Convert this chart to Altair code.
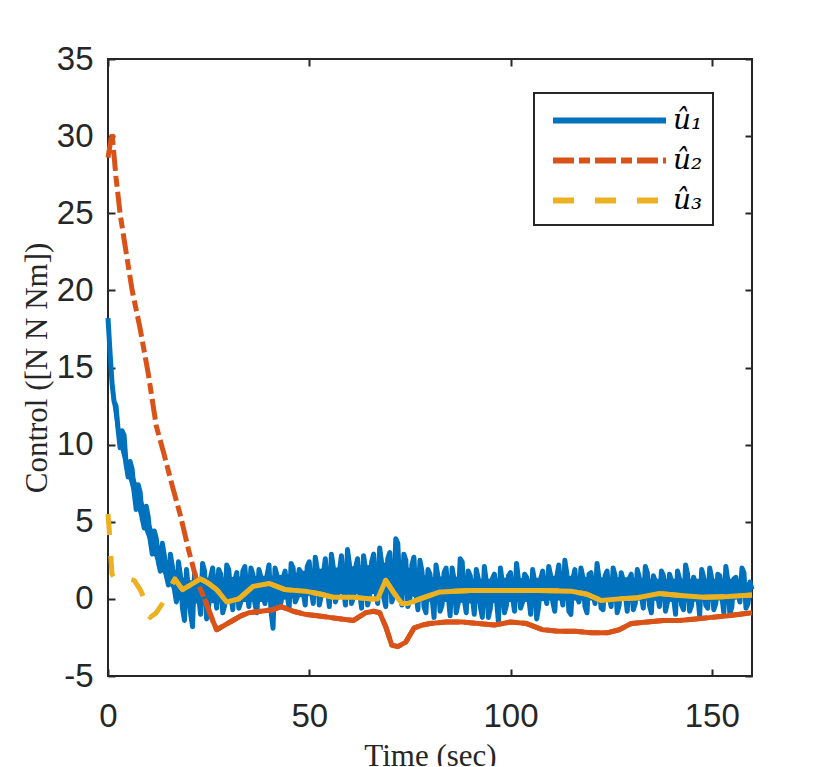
import altair as alt
import pandas as pd

# ---------------- data ----------------
names = ["û₁", "û₂", "û₃"]
colors = ["#0072BD", "#D95319", "#EDB120"]
dashes = [[1, 0], [21, 5, 11, 5], [21, 21]]

x_ticks = [0, 50, 100, 150]
y_ticks = [-5, 0, 5, 10, 15, 20, 25, 30, 35]

# u1 is a noisy signal: samples at whole seconds and at half seconds
t_u1 = list(range(0, 161))
u1 = [18.2, 14.0, 12.5, 9.8, 10.6, 7.9, 8.4, 5.8, 6.9, 4.6,
      5.3, 2.9, 3.9, 1.8, 2.8, 0.9, 2.1, -0.2, 1.5, -1.4,
      0.6, -1.8, 1.2, -1.0, 1.8, -0.5, 2.0, -0.6, 1.6, -0.4,
      1.9, -0.7, 1.7, -0.2, 2.1, -0.5, 1.6, -0.9, 1.4, -0.3,
      2.2, -1.9, 1.5, -0.2, 1.8, -0.6, 2.0, 0.1, 1.7, -0.4,
      2.4, -0.3, 1.9, 0.2, 2.6, -0.5, 2.0, 0.3, 2.8, -0.4,
      2.2, 0.1, 2.6, -0.6, 1.9, 0.2, 2.9, -0.3, 2.3, -0.5,
      3.0, 0.2, 3.6, -0.4, 2.5, 0.0, 2.7, -0.7, 1.8, -0.9,
      1.6, -1.2, 1.4, -0.4, 2.0, -1.1, 1.2, -0.3, 2.4, -0.9,
      1.5, -1.0, 1.3, -1.2, 1.1, -0.6, 1.6, -1.5, 1.0, -0.4,
      1.7, -0.8, 1.2, -0.2, 1.4, -1.0, 1.1, -0.5, 1.8, -0.3,
      1.5, -0.8, 2.2, -0.4, 1.6, -1.0, 1.9, -0.2, 1.4, -0.9,
      1.7, -0.3, 1.3, -0.7, 1.8, -0.5, 1.5, -0.4, 1.2, -0.8,
      1.6, -0.3, 1.4, -0.6, 1.7, -0.9, 1.1, -0.5, 1.5, -0.2,
      1.2, -1.0, 1.3, -0.7, 1.6, -0.4, 1.0, -1.1, 1.4, -0.6,
      1.3, -0.3, 1.5, -0.9, 1.2, -0.5, 1.4, -0.2, 1.7, -0.3,
      0.6]
t_u1_half = [i + 0.5 for i in range(0, 160)]
u1_half = [16.0, 12.8, 11.0, 10.9, 8.7, 8.9, 6.9, 7.4, 5.2, 6.0,
           3.8, 4.4, 2.4, 3.6, 1.5, 2.9, 0.6, 2.4, -0.6, 1.9,
           -0.9, 1.7, 0.2, 2.3, -1.3, 1.4, 0.6, 1.9, -0.9, 2.2,
           0.3, 1.2, -0.6, 1.8, 0.4, 2.0, -0.3, 1.9, 0.2, 1.5,
           -0.8, 2.0, -0.5, 1.3, 0.3, 2.3, -0.2, 1.9, 0.4, 2.1,
           0.5, 2.7, -0.4, 1.6, 0.6, 2.9, -0.2, 1.8, 0.7, 3.2,
           -0.3, 2.0, 0.5, 2.8, -0.4, 2.4, 0.6, 3.3, 0.1, 2.6,
           -0.2, 3.9, 0.6, 2.9, -0.5, 2.2, 0.4, 2.5, -0.5, 1.9,
           0.1, 2.2, -0.8, 1.7, 0.3, 2.0, -0.9, 2.6, 0.0, 1.8,
           0.2, 1.9, -0.5, 2.1, -1.2, 1.3, 0.0, 2.0, -0.9, 1.5,
           0.1, 2.3, -0.6, 1.6, 0.2, 1.9, -1.3, 1.3, 0.3, 2.1,
           -0.2, 1.4, 0.4, 2.5, -0.8, 1.3, 0.1, 2.0, -0.5, 1.6,
           0.3, 2.3, -0.6, 1.5, 0.2, 2.0, -0.9, 1.7, 0.4, 1.3,
           -0.7, 1.9, 0.2, 2.1, -0.4, 1.5, 0.3, 1.8, -0.8, 1.6,
           0.1, 1.8, -0.4, 2.2, -0.8, 1.4, 0.3, 1.9, -0.4, 2.0,
           -0.7, 1.6, 0.2, 2.1, -1.0, 1.3, 0.3, 2.0, -0.6, 1.1]

# the dense core of the u1 noise band (lower / upper edge)
t_band = [0, 1, 2, 3, 4, 5, 6, 8, 10, 12, 14, 16, 18, 20, 22, 25,
          30, 35, 40, 45, 50, 55, 60, 65, 70, 75, 80, 85, 90, 95, 100,
          105, 110, 115, 120, 125, 130, 135, 140, 145, 150, 155, 160]
band_lo = [17.5, 12.8, 11.0, 9.8, 8.7, 7.9, 6.9, 5.2, 3.8, 2.4, 1.5, 0.6, -0.2, -0.5, -0.3, -0.3,
           -0.2, -0.2, -0.2, 0.0, 0.2, 0.3, 0.3, 0.3, 0.4, 0.2, -0.2, -0.2, -0.3, -0.3, -0.2,
           -0.2, -0.1, -0.1, -0.1, -0.1, -0.1, -0.1, -0.2, -0.2, -0.1, -0.1, 0.2]
band_hi = [18.2, 14.0, 12.5, 10.9, 10.6, 8.9, 8.4, 6.9, 5.3, 3.9, 2.8, 2.1, 1.5, 1.2, 1.2, 1.4,
           1.4, 1.5, 1.5, 1.6, 1.9, 2.0, 2.1, 2.2, 2.4, 2.0, 1.4, 1.5, 1.3, 1.3, 1.4,
           1.3, 1.5, 1.5, 1.4, 1.4, 1.4, 1.3, 1.3, 1.3, 1.3, 1.3, 1.0]

t_u2 = [0, 1, 2, 3, 4, 6, 8, 10, 12, 14, 16, 18, 20, 22, 24,
        26, 27, 29, 31, 33, 35, 38, 41, 43, 46, 49, 52, 55, 58, 61,
        64, 66, 67.5, 69, 70.5, 72, 74, 76, 78, 80, 84, 88, 92, 96, 100,
        104, 108, 112, 116, 120, 124, 127, 130, 134, 138, 142, 146, 150,
        154, 157, 160]
u2 = [28.6, 30.2, 27.3, 25.0, 23.3, 20.0, 17.5, 14.6, 11.2, 9.3, 7.3, 5.4, 3.2, 1.2, 0.0,
      -1.4, -2.0, -1.7, -1.4, -1.1, -0.9, -0.8, -0.7, -0.5, -0.8, -1.0, -1.1, -1.2, -1.3, -1.4,
      -0.9, -0.8, -0.9, -1.8, -3.0, -3.1, -2.8, -1.9, -1.7, -1.6, -1.5, -1.5, -1.6, -1.7, -1.5,
      -1.6, -2.0, -2.1, -2.1, -2.2, -2.2, -2.0, -1.6, -1.5, -1.4, -1.4, -1.3, -1.2,
      -1.1, -1.0, -0.9]

t_u3 = [0, 0.3, 0.6, 1, 2, 3.5, 5, 6.5, 8, 9,
        10.5, 12, 13.5, 15, 16.6, 18.5, 20.5, 23, 25, 27,
        29.5, 32.5, 36, 40, 44, 49, 53, 56, 61, 65,
        67, 69, 71, 73, 74.5, 77.5, 82.5, 90, 100, 107,
        115, 119, 122.5, 127, 131, 137, 143, 148, 154, 160]
u3 = [5.5, 4.5, 3.2, 1.6, 1.2, 1.1, 1.3, 1.2, 0.6, 0.0,
      -1.2, -0.9, -0.3, 0.5, 1.3, 0.6, 0.9, 1.3, 1.0, 0.6,
      -0.2, 0.0, 0.8, 1.0, 0.6, 0.5, 0.3, 0.1, 0.1, 0.0,
      0.0, 1.2, 0.4, -0.3, -0.3, 0.0, 0.45, 0.55, 0.55, 0.55,
      0.5, 0.3, -0.1, 0.0, 0.05, 0.35, 0.2, 0.1, 0.15, 0.25]

# ---------------- tables ----------------
rows = []
series_src = [
    ("u1", names[0], t_u1 + t_u1_half, u1 + u1_half),
    ("u2", names[1], t_u2, u2),
    ("u3", names[2], t_u3, u3),
]
for key, name, ts, vs in series_src:
    for t, v in zip(ts, vs):
        rows.append({"key": key, "series": name, "t": t, "value": v})
df = pd.DataFrame(rows).sort_values(["key", "t"]).reset_index(drop=True)
band_df = pd.DataFrame({"t": t_band, "lo": band_lo, "hi": band_hi})

xscale = alt.Scale(domain=[0, 160], nice=False, zero=False)
yscale = alt.Scale(domain=[-5, 35], nice=False, zero=False)

INK = "#262626"

band = alt.Chart(band_df).mark_area(color=colors[0], opacity=1).encode(
    x=alt.X("t:Q", scale=xscale, axis=None),
    y=alt.Y("lo:Q", scale=yscale, axis=None),
    y2="hi:Q",
)

base = alt.Chart(df)

main = base.mark_line(strokeWidth=5, strokeJoin="round").encode(
    x=alt.X("t:Q", scale=xscale, axis=alt.Axis(
        title="Time (sec)", values=x_ticks, orient="bottom", offset=-7,
        tickSize=7, labelPadding=24, titlePadding=8, domain=False,
        labelFlush=False)),
    y=alt.Y("value:Q", scale=yscale, axis=alt.Axis(
        title="Control ([N N Nm])", values=y_ticks, orient="left", offset=-7,
        tickSize=7, labelPadding=15, titlePadding=3, domain=False,
        labelFlush=False, labelExpr="datum.value + ''")),
    color=alt.Color("series:N", scale=alt.Scale(domain=names, range=colors),
                    legend=alt.Legend(title=None)),
    strokeDash=alt.StrokeDash("series:N", scale=alt.Scale(domain=names, range=dashes),
                              legend=alt.Legend(title=None)),
    detail="key:N",
)

red_solid = base.transform_filter("datum.key == 'u2' && datum.t >= 23").mark_line(
    strokeWidth=5, strokeJoin="round", color=colors[1]).encode(
    x=alt.X("t:Q", scale=xscale, axis=alt.Axis(
        title=None, values=x_ticks, orient="top", offset=-7, tickSize=7,
        labels=False, grid=False, domain=False)),
    y=alt.Y("value:Q", scale=yscale, axis=alt.Axis(
        title=None, values=y_ticks, orient="right", offset=-7, tickSize=7,
        labels=False, grid=False, domain=False)),
)

yellow_solid = base.transform_filter("datum.key == 'u3' && datum.t >= 16").mark_line(
    strokeWidth=5, strokeJoin="round", color=colors[2]).encode(
    x=alt.X("t:Q", scale=xscale, axis=None),
    y=alt.Y("value:Q", scale=yscale, axis=None),
)

chart = alt.layer(band, main, red_solid, yellow_solid).resolve_axis(
    x="independent", y="independent"
).properties(
    width=644, height=617,
    autosize=alt.AutoSizeParams(type="none"),
    padding={"left": 100, "top": 51, "right": 70, "bottom": 90},
).configure_view(
    stroke=INK, strokeWidth=2
).configure_axis(
    labelFont="Liberation Sans", labelFontSize=33, labelColor=INK,
    titleFont="Liberation Serif", titleFontSize=31, titleColor=INK, titleFontWeight="normal",
    tickColor=INK, tickWidth=2, gridColor="#e2e2e2", gridWidth=2,
).configure_legend(
    orient="none", legendX=426, legendY=34,
    fillColor="white", strokeColor=INK, strokeWidth=2, padding=10,
    symbolType="M-4,0H4", symbolSize=798, symbolStrokeWidth=6, symbolOffset=48,
    labelFont="DejaVu Serif", labelFontStyle="italic", labelFontSize=28,
    labelColor="#000000", labelOffset=46, rowPadding=8,
)

chart.save("out.html", embed_options={"renderer": "svg", "actions": False})
